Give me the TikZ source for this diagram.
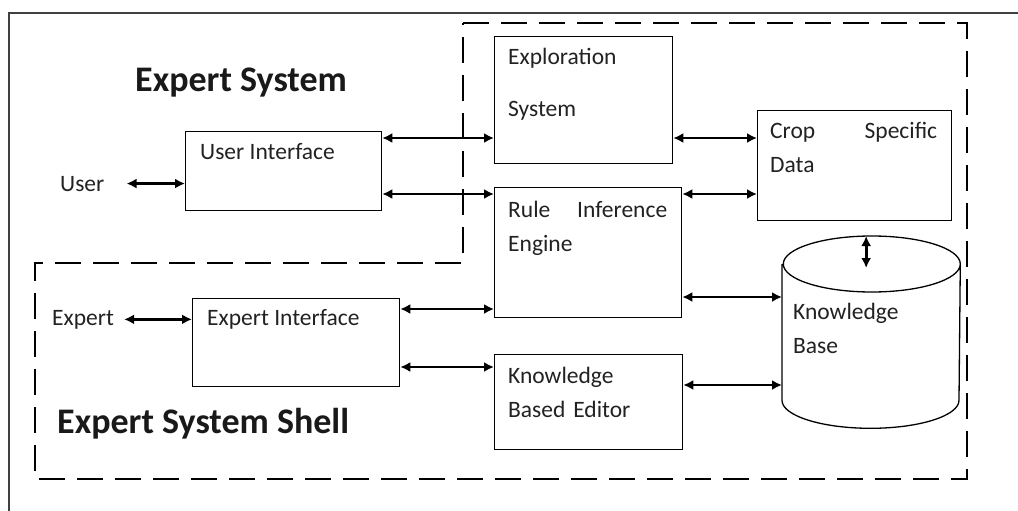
\documentclass[tikz,border=0pt]{standalone}
\usepackage{fontspec}
\setmainfont{Carlito}
\usetikzlibrary{arrows.meta}
\definecolor{ink}{HTML}{222222}
\begin{document}
\begin{tikzpicture}[
  x=1pt, y=-1pt,
  box/.style={draw, line width=1.3pt, anchor=north west, inner sep=0pt},
  lbl/.style={anchor=base west, inner sep=0pt, text=ink, font=\fontsize{23.5}{34}\selectfont, align=left},
  head/.style={anchor=base west, inner sep=0pt, text=black!90, font=\fontsize{36}{40}\selectfont\bfseries},
  link/.style={line width=2.7pt, {Latex[length=10pt,width=10pt]}-{Latex[length=10pt,width=10pt]}},
  shell/.style={line width=1.4pt, dash pattern=on 26pt off 12pt}
]
  \fill[white] (0,0) rectangle (1018,511);
  \useasboundingbox (0,0) rectangle (1018,511);

  \draw[line width=1.3pt, black!75] (1020,13) -- (9,13) -- (9,515);
  \draw[shell] (463,23) -- (967,23) -- (967,479) -- (35,479) -- (35,263) -- (463,263) -- cycle;

  \node[box, minimum width=196pt, minimum height=79pt]  (ui)   at (185,131) {};
  \node[box, minimum width=178pt, minimum height=127pt] (expl) at (494,36)  {};
  \node[box, minimum width=187pt, minimum height=130pt] (rule) at (494,187) {};
  \node[box, minimum width=194pt, minimum height=110pt] (crop) at (757,110) {};
  \node[box, minimum width=188pt, minimum height=95pt]  (kbe)  at (494,354) {};
  \node[box, minimum width=207pt, minimum height=88pt]  (ei)   at (192,298) {};
  \node[box, draw=none, minimum width=177pt, minimum height=191pt] (kb) at (782,236) {};
  % knowledge base drum
  \draw[line width=1.3pt] ([yshift=-28pt]kb.north west) -- ([yshift=28pt]kb.south west)
    arc[start angle=180, end angle=360, x radius=88.5pt, y radius=28pt]
    -- ([yshift=-28pt]kb.north east)
    arc[start angle=0, end angle=360, x radius=88.5pt, y radius=28pt];

  \node[head] (es)  at (135,92)  {Expert System};
  \node[head] (ess) at (57,433)  {Expert System Shell};
  \node[lbl] (user)   at (60,191)  {User};
  \node[lbl] (expert) at (52,325)  {Expert};
  \node[lbl] (uiT)    at (200,159) {User Interface};
  \node[lbl] (eiT)    at (207,325) {Expert Interface};
  \node[lbl, text width=150pt] (explT) at (508,65)  {Exploration\\[18pt]System};
  \node[lbl, text width=167pt] (cropT) at (770,138) {Crop\hfill Specific\\Data};
  \node[lbl, text width=159pt] (ruleT) at (508,217) {Rule\hfill Inference\\Engine};
  \node[lbl, text width=150pt] (kbT)   at (793,319) {Knowledge\\Base};
  \node[lbl, text width=160pt] (kbeT)  at (508,383) {Knowledge\\Based Editor};

  \draw[link] ([xshift=22pt]user.east) -- (ui.west |- user.east);
  \draw[link] ([xshift=10pt]expert.east) -- (ei.west |- expert.east);
  \draw[link] (ui.east |- 0,138) -- (expl.west |- 0,138);
  \draw[link] (ui.east |- 0,194) -- (rule.west |- 0,194);
  \draw[link] (expl.east |- 0,138) -- (crop.west |- 0,138);
  \draw[link] (rule.east |- 0,194) -- (crop.west |- 0,194);
  \draw[link] (ei.east |- 0,309) -- (rule.west |- 0,309);
  \draw[link] (ei.east |- 0,367) -- (kbe.west |- 0,367);
  \draw[link] (rule.east |- 0,297) -- (kb.west |- 0,297);
  \draw[link] (kbe.east |- 0,385) -- (kb.west |- 0,385);
  \draw[link] ([xshift=-5pt]kb.north) -- ([xshift=-5pt,yshift=-32pt]kb.north);
\end{tikzpicture}
\end{document}
